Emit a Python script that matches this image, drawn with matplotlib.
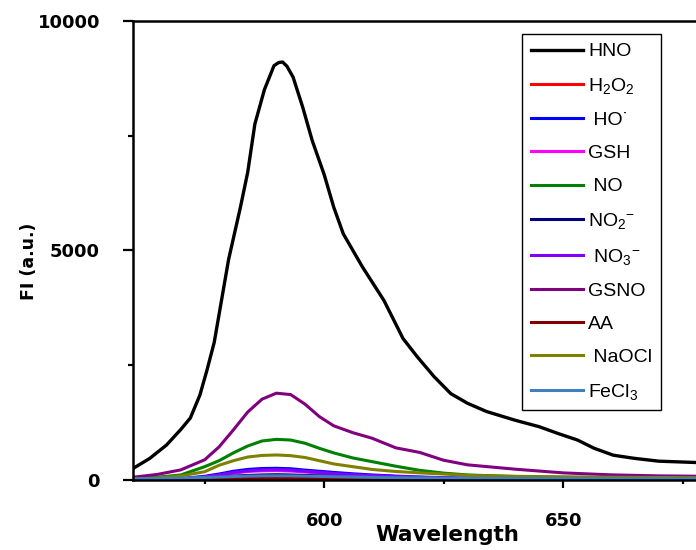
import matplotlib
matplotlib.use("Agg")
import matplotlib.pyplot as plt
from matplotlib.ticker import FixedLocator, MultipleLocator

# HNO has its own (denser) wavelength grid
hno_wl = [560, 563.5, 567, 570, 572, 574, 575.5, 577, 580, 582.5, 584, 585.5,
          587.5, 589.5, 590.5, 591.3, 592.2, 593.5, 595.5, 597.5, 600, 602,
          604, 608, 612.5, 616.5, 619.5, 623, 626.5, 630, 634, 640, 645, 649,
          653, 656.5, 660.5, 665, 670, 678]
hno = [250, 470, 760, 1100, 1350, 1850, 2400, 3000, 4800, 5950, 6700, 7750,
       8500, 9020, 9090, 9100, 9010, 8770, 8120, 7390, 6650, 5940, 5360,
       4640, 3910, 3080, 2680, 2250, 1880, 1670, 1490, 1300, 1160, 1010,
       870, 690, 540, 470, 410, 380]

# other analytes, shared wavelength grid
wl = [560, 565, 570, 575, 578, 581, 584, 587, 590, 593, 596, 599, 602, 606,
      610, 615, 620, 625, 630, 640, 650, 660, 670, 680]
h2o2 = [5, 8, 12, 18, 24, 30, 35, 38, 40, 38, 35, 32, 28, 24, 20, 16, 13, 11,
        10, 8, 7, 6, 6, 5]
ho = [5, 10, 30, 80, 130, 190, 230, 250, 255, 245, 215, 190, 165, 135, 110,
      85, 65, 50, 40, 30, 25, 20, 20, 20]
gsh = [4, 8, 22, 60, 100, 150, 185, 200, 205, 195, 175, 150, 130, 105, 85, 65,
       50, 40, 32, 25, 20, 18, 16, 15]
no = [30, 60, 110, 290, 420, 590, 740, 850, 885, 870, 800, 690, 590, 480, 400,
      300, 210, 150, 110, 75, 55, 45, 40, 35]
no2 = [10, 15, 25, 45, 65, 85, 100, 110, 115, 110, 100, 90, 80, 68, 58, 48,
       40, 34, 30, 26, 22, 20, 18, 18]
no3 = [5, 10, 25, 65, 110, 165, 200, 220, 225, 215, 190, 165, 140, 115, 95,
       75, 58, 46, 38, 30, 24, 20, 18, 17]
gsno = [60, 120, 220, 440, 720, 1090, 1480, 1760, 1890, 1860, 1650, 1380,
        1180, 1030, 910, 700, 600, 430, 330, 235, 155, 112, 90, 80]
aa = [5, 8, 12, 18, 25, 30, 35, 38, 40, 38, 35, 30, 26, 22, 18, 15, 12, 10,
      9, 8, 7, 6, 6, 5]
naocl = [20, 45, 90, 180, 320, 420, 500, 535, 545, 530, 490, 420, 350, 290,
         230, 185, 155, 130, 100, 80, 70, 60, 55, 50]
fecl3 = [25, 30, 40, 55, 65, 75, 85, 90, 92, 90, 85, 78, 72, 65, 58, 50, 45,
         40, 36, 32, 30, 28, 27, 26]

labels = ['HNO', 'H$_2$O$_2$', ' HO\u02d9', 'GSH', ' NO', 'NO$_2$$^{-}$',
          ' NO$_3$$^{-}$', 'GSNO', 'AA', ' NaOCl', 'FeCl$_3$']
colors = ['#000000', '#ff0000', '#0000ff', '#ff00ff', '#008000', '#000080',
          '#8000ff', '#800080', '#800000', '#808000', '#3f7fbf']
others = [h2o2, ho, gsh, no, no2, no3, gsno, aa, naocl, fecl3]

plt.rcParams['font.family'] = 'DejaVu Sans'
plt.rcParams['font.weight'] = 'bold'
plt.rcParams['mathtext.fontset'] = 'custom'
plt.rcParams['mathtext.rm'] = 'Liberation Sans'
plt.rcParams['mathtext.default'] = 'regular'

fig = plt.figure(figsize=(6.96, 5.5), dpi=100)
ax = fig.add_axes([133 / 696, 70 / 550, 563 / 696, 459.3 / 550])

ax.plot(hno_wl, hno, color=colors[0], lw=2.4, label=labels[0])
for ys, c, lab in zip(others, colors[1:], labels[1:]):
    ax.plot(wl, ys, color=c, lw=2.2, label=lab)

ax.set_xlim(560, 677.8)
ax.set_ylim(0, 10000)
ax.xaxis.set_major_locator(FixedLocator([600, 650]))
ax.xaxis.set_minor_locator(FixedLocator([575, 625, 675]))
ax.yaxis.set_major_locator(MultipleLocator(5000))
ax.yaxis.set_minor_locator(MultipleLocator(2500))

ax.tick_params(which='both', direction='out', width=1.6, top=False,
               right=False, labelsize=13)
ax.tick_params(axis='x', which='major', length=5.8, pad=17)
ax.tick_params(axis='x', which='minor', length=3)
ax.tick_params(axis='y', which='major', length=7.2, pad=16.5)
ax.tick_params(axis='y', which='minor', length=3.6)

for side in ['left', 'bottom', 'top']:
    ax.spines[side].set_linewidth(1.8)
ax.spines['right'].set_visible(False)

ax.set_xlabel('Wavelength', fontsize=15.5, fontweight='bold')
ax.xaxis.set_label_coords(0.558, -0.098)
ax.set_ylabel('FI (a.u.)', fontsize=12.5, fontweight='bold')
ax.yaxis.set_label_coords(-0.169, 0.476)

leg = ax.legend(loc='upper left', bbox_to_anchor=(0.691, 0.971),
                borderaxespad=0, frameon=True, fancybox=False, framealpha=1,
                edgecolor='black', handlelength=2.7, handletextpad=0.25,
                borderpad=0.45, labelspacing=0.8,
                prop={'family': 'Liberation Sans', 'size': 14,
                      'weight': 'normal'})
leg.get_frame().set_linewidth(1.0)

fig.savefig('out.png', dpi=100)
